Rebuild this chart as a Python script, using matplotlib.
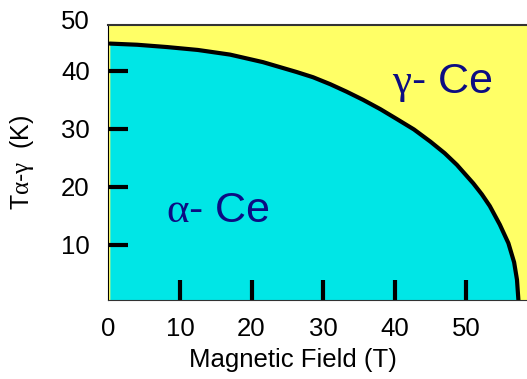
import matplotlib
matplotlib.use("Agg")
import matplotlib.pyplot as plt

# phase boundary
field = [0.2, 4.0, 8.2, 12.5, 17.0, 21.6, 26.3, 28.6, 31.0, 33.3, 35.6,
         38.0, 40.3, 42.7, 45.0, 47.0, 48.7, 51.0, 52.2, 53.3, 54.7,
         55.9, 56.7, 57.1, 57.3]
temp = [44.7, 44.5, 44.1, 43.6, 42.8, 41.5, 39.8, 38.9, 37.7, 36.4, 35.0,
        33.4, 31.7, 29.9, 27.8, 25.8, 23.8, 20.6, 18.7, 16.7, 13.5,
        10.3, 7.0, 4.0, 0.5]

xticks = [10, 20, 30, 40, 50]
yticks = [10, 20, 30, 40]

plt.rcParams['font.family'] = ['Liberation Sans', 'DejaVu Sans']
plt.rcParams['mathtext.fontset'] = 'custom'
plt.rcParams['mathtext.rm'] = 'Liberation Serif'

navy = '#0c0c82'
cyan = '#00e6e6'
yellow = '#ffff66'


def main():
    fig = plt.figure(figsize=(5.27, 3.79), dpi=100)
    ax = fig.add_axes([0.2057, 0.2084, 0.7943, 0.7256])
    ax.set_facecolor(yellow)

    ax.fill_between(field, temp, 0, color=cyan, lw=0)
    ax.plot(field, temp, color='black', lw=3, solid_capstyle='round',
            solid_joinstyle='round')

    ax.set_xlim(0, 58.5)
    ax.set_ylim(0.5, 47.9)

    ax.set_xticks(xticks)
    ax.set_yticks(yticks)
    ax.tick_params(direction='in', length=14.5, width=3, color='black',
                   labelsize=18.5, pad=12)
    ax.tick_params(axis='y', pad=13.5)

    # "0" and "50" labels at the corners (no tick marks there)
    ax.annotate('0', xy=(0, 0), xycoords='axes fraction', xytext=(0, -12),
                textcoords='offset points', ha='center', va='top', fontsize=18.5)
    ax.annotate('50', xy=(0, 48.5), xycoords=('axes fraction', 'data'),
                xytext=(-13.5, 0), textcoords='offset points',
                ha='right', va='center', fontsize=18.5, annotation_clip=False)

    ax.spines['right'].set_visible(False)
    ax.spines['top'].set_color('#333333')
    ax.spines['top'].set_linewidth(1.5)
    ax.spines['bottom'].set_color('#333333')
    ax.spines['left'].set_color('black')

    ax.set_xlabel('Magnetic Field (T)', fontsize=18.5)
    ax.xaxis.set_label_coords(0.442, -0.175)
    ax.set_ylabel('T$\\mathrm{\\alpha}$-$\\mathrm{\\gamma}$  (K)', fontsize=18)
    ax.yaxis.set_label_coords(-0.172, 0.5)

    ax.text(8.0, 14.0, '$\\mathrm{\\alpha}$- Ce', color=navy, fontsize=31,
            ha='left', va='baseline')
    ax.text(39.7, 36.2, '$\\mathrm{\\gamma}$- Ce', color=navy, fontsize=31,
            ha='left', va='baseline')

    fig.savefig('out.png', dpi=100)
    plt.close(fig)


if __name__ == "__main__":
    main()
